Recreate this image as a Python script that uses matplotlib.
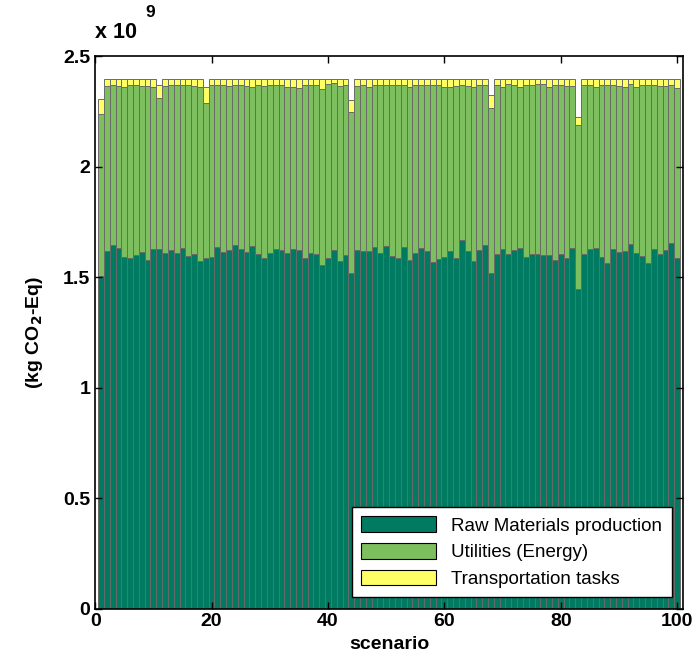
import numpy as np
import matplotlib
matplotlib.use("Agg")
import matplotlib.pyplot as plt

plt.rcParams['font.family'] = ['Liberation Sans', 'DejaVu Sans']

# levels, in units of 1e9 kg CO2-Eq
scenario = np.arange(1, 101)
raw_top = [
    1.507, 1.618, 1.648, 1.633, 1.593, 1.587, 1.600, 1.613, 1.577, 1.628,
    1.628, 1.608, 1.624, 1.608, 1.633, 1.595, 1.607, 1.575, 1.587, 1.593,
    1.636, 1.613, 1.624, 1.648, 1.630, 1.615, 1.640, 1.607, 1.589, 1.608,
    1.628, 1.622, 1.611, 1.630, 1.624, 1.589, 1.609, 1.605, 1.554, 1.589,
    1.624, 1.575, 1.602, 1.519, 1.624, 1.620, 1.618, 1.636, 1.608, 1.640,
    1.596, 1.587, 1.636, 1.578, 1.608, 1.633, 1.618, 1.571, 1.584, 1.593,
    1.618, 1.589, 1.670, 1.618, 1.572, 1.624, 1.648, 1.521, 1.607, 1.628,
    1.605, 1.625, 1.633, 1.590, 1.605, 1.605, 1.600, 1.600, 1.577, 1.604,
    1.587, 1.633, 1.447, 1.607, 1.628, 1.633, 1.593, 1.566, 1.628, 1.616,
    1.618, 1.652, 1.609, 1.597, 1.565, 1.628, 1.605, 1.622, 1.655, 1.589,
]
util_top = [
    2.240, 2.366, 2.371, 2.366, 2.363, 2.371, 2.371, 2.366, 2.366, 2.363,
    2.311, 2.366, 2.371, 2.371, 2.371, 2.371, 2.366, 2.360, 2.291, 2.371,
    2.371, 2.371, 2.366, 2.371, 2.371, 2.366, 2.363, 2.371, 2.366, 2.371,
    2.371, 2.371, 2.363, 2.360, 2.356, 2.371, 2.371, 2.371, 2.351, 2.375,
    2.378, 2.366, 2.371, 2.250, 2.366, 2.371, 2.360, 2.371, 2.371, 2.371,
    2.371, 2.371, 2.371, 2.360, 2.371, 2.371, 2.371, 2.371, 2.371, 2.363,
    2.360, 2.366, 2.371, 2.366, 2.360, 2.371, 2.371, 2.265, 2.371, 2.363,
    2.375, 2.371, 2.363, 2.371, 2.371, 2.375, 2.375, 2.363, 2.371, 2.371,
    2.366, 2.366, 2.190, 2.371, 2.371, 2.360, 2.371, 2.371, 2.371, 2.366,
    2.363, 2.375, 2.360, 2.371, 2.371, 2.371, 2.366, 2.366, 2.371, 2.356,
]
total_top = [2.40] * 100
total_top[0] = 2.306
total_top[10] = 2.371
total_top[18] = 2.360
total_top[43] = 2.303
total_top[67] = 2.326
total_top[82] = 2.226

labels = ['Raw Materials production', 'Utilities (Energy)', 'Transportation tasks']
colors = ['#007A60', '#7DBE5E', '#FFFF66']

raw = np.array(raw_top) * 1e9
util = (np.array(util_top) - np.array(raw_top)) * 1e9
trans = (np.array(total_top) - np.array(util_top)) * 1e9

fig = plt.figure(figsize=(6.98, 6.71), dpi=100)
ax = fig.add_axes([0.1364, 0.0931, 0.842, 0.8227])

kw = dict(width=1.0, edgecolor='#6a6a6a', linewidth=0.7)
ax.bar(scenario, raw, color=colors[0], label=labels[0], **kw)
ax.bar(scenario, util, bottom=raw, color=colors[1], label=labels[1], **kw)
ax.bar(scenario, trans, bottom=raw + util, color=colors[2], label=labels[2], **kw)

ax.set_xlim(0, 101)
ax.set_ylim(0, 2.5e9)
ax.set_xticks(np.arange(0, 101, 20))
yt = np.arange(0, 2.51, 0.5)
ax.set_yticks(yt * 1e9)
ax.set_yticklabels([f'{v:g}' for v in yt])
ax.tick_params(direction='in', length=5, width=1, top=True, right=True,
               labelsize=14)
for lab in ax.get_xticklabels() + ax.get_yticklabels():
    lab.set_fontweight('bold')
for s in ax.spines.values():
    s.set_linewidth(1.2)

ax.set_xlabel('scenario', fontsize=14, fontweight='bold', labelpad=4)
ax.set_ylabel('(kg CO$_\\mathbf{2}$-Eq)', fontsize=14, fontweight='bold', labelpad=13)

fig.text(0.136, 0.943, 'x 10', fontsize=15.5, fontweight='bold', ha='left', va='baseline')
fig.text(0.208, 0.975, '9', fontsize=12.5, fontweight='bold', ha='left', va='baseline')

leg = ax.legend(loc='lower right', fontsize=13.5, frameon=True, fancybox=False,
                edgecolor='black', framealpha=1, handlelength=4.0, handleheight=0.9,
                borderaxespad=0.6, labelspacing=0.45, borderpad=0.5)
leg.get_frame().set_linewidth(1.0)
for h in leg.legend_handles:
    h.set_edgecolor('black')
    h.set_linewidth(0.8)

fig.savefig('out.png', dpi=100)
